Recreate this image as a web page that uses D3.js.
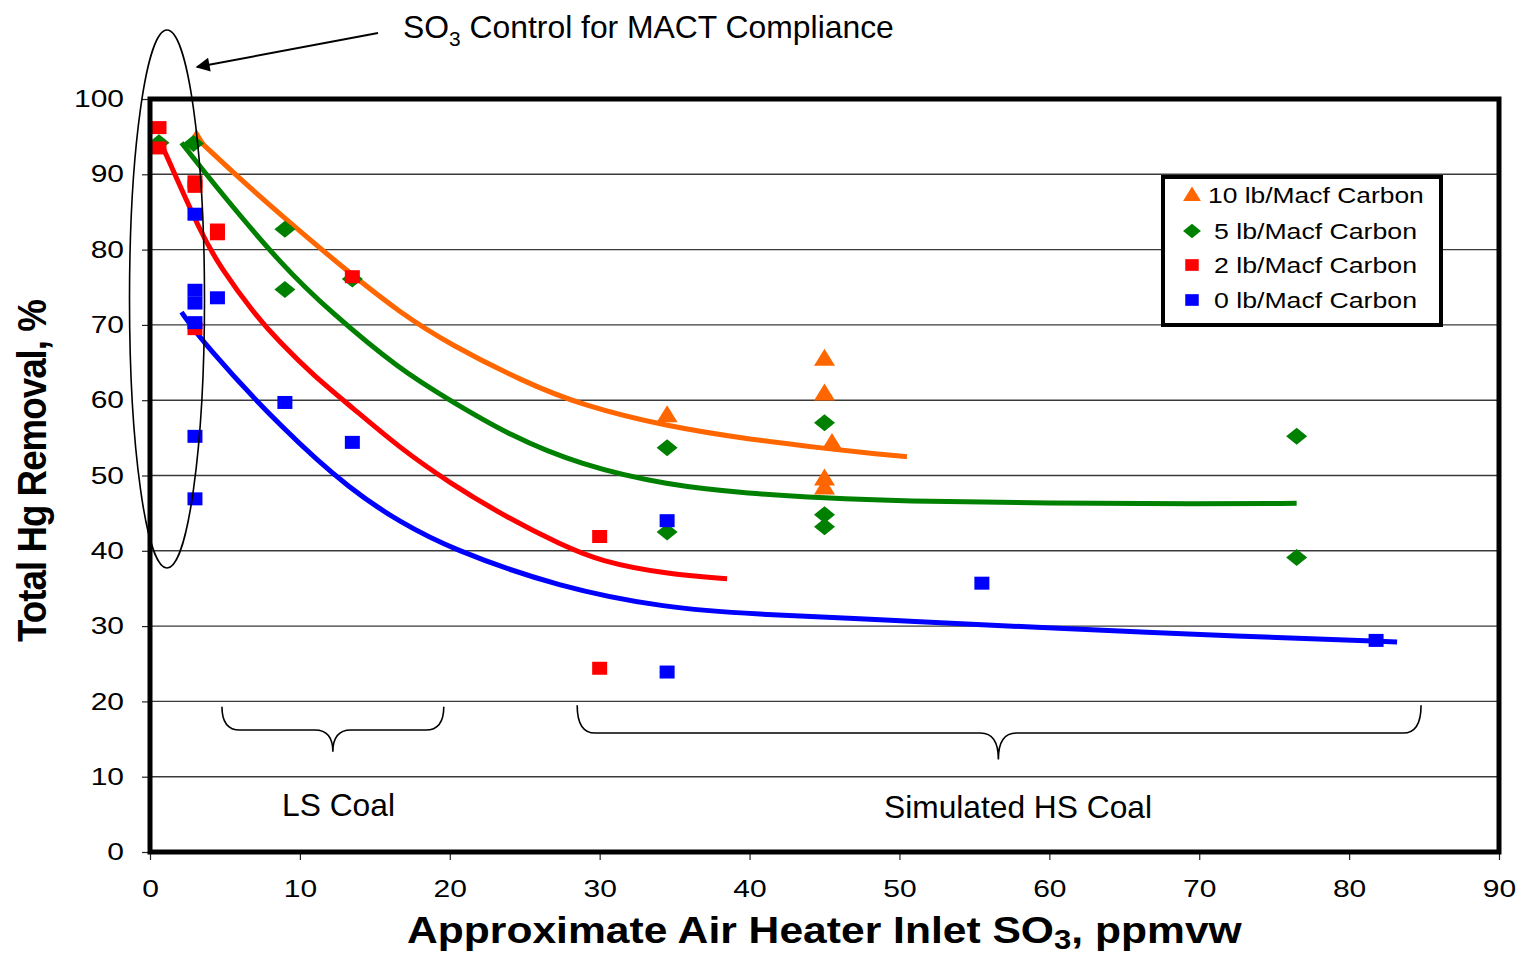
<!DOCTYPE html>
<html>
<head>
<meta charset="utf-8">
<script src="https://cdn.jsdelivr.net/npm/d3@7"></script>
<style>
  html, body { margin: 0; padding: 0; background: #fff; }
  svg { display: block; font-family: "Liberation Sans", Arial, sans-serif; }
</style>
</head>
<body>
<svg id="chart" width="1519" height="954"></svg>
<script>
// ---------- data ----------
const xTicks = [0, 10, 20, 30, 40, 50, 60, 70, 80, 90];
const yTicks = [0, 10, 20, 30, 40, 50, 60, 70, 80, 90, 100];

const seriesNames = ["10 lb/Macf Carbon", "5 lb/Macf Carbon", "2 lb/Macf Carbon", "0 lb/Macf Carbon"];
const seriesColors = ["#FF6600", "#008000", "#FF0000", "#0000FF"];
const seriesShapes = ["triangle", "diamond", "square", "square"];

// 10 lb/Macf
const tenX = [3.1, 34.5, 45, 45, 45.5, 45, 45];
const tenY = [94.7, 58.0, 65.5, 60.9, 54.3, 49.6, 48.4];
// 5 lb/Macf
const fiveX = [0.6, 2.9, 9, 9, 13.5, 34.5, 34.5, 45, 45, 45, 76.5, 76.5];
const fiveY = [94.2, 94.1, 82.7, 74.7, 76.1, 53.7, 42.5, 57.0, 44.8, 43.2, 55.2, 39.1];
// 2 lb/Macf
const twoX = [0.6, 0.6, 3, 3, 4.5, 4.5, 3, 13.5, 30, 30];
const twoY = [96.2, 93.5, 89.0, 88.4, 82.6, 82.1, 69.5, 76.4, 41.9, 24.4];
// 0 lb/Macf
const zeroX = [3, 3, 3, 3, 4.5, 9, 3, 13.5, 3, 34.5, 34.5, 55.5, 81.8];
const zeroY = [84.7, 74.6, 72.9, 70.3, 73.6, 59.7, 55.2, 54.4, 46.9, 44.0, 23.9, 35.7, 28.1];

// trend lines
const tenFitX = [3.2, 6, 8.9, 13.3, 16.7, 20, 25, 28.7, 34.5, 40, 45, 48.7, 50.5];
const tenFitY = [94.6, 89.4, 84.3, 76.9, 71.6, 67.4, 62.4, 59.4, 56.5, 54.8, 53.6, 52.8, 52.5];
const fiveFitX = [2.1, 4.7, 8.9, 12, 16.7, 20, 24, 28.7, 34.5, 40, 45, 50, 60, 70, 76.5];
const fiveFitY = [94.2, 87.6, 77.7, 71.8, 64.0, 60.0, 55.3, 51.4, 48.7, 47.6, 47.0, 46.6, 46.3, 46.2, 46.3];
const twoFitX = [0.7, 3.5, 4.7, 6.9, 8.7, 10.9, 13.5, 16.7, 20, 24, 27.35, 30, 34.5, 38.5];
const twoFitY = [94.3, 81.7, 77.7, 71.6, 67.6, 63.3, 59.0, 53.6, 49.0, 44.2, 40.9, 38.6, 36.9, 36.3];
const zeroFitX = [2.1, 3.5, 8.9, 13.5, 16.7, 20, 27.35, 34.5, 40, 49.6, 58, 73.4, 83.2];
const zeroFitY = [71.7, 67.7, 56.0, 47.9, 43.8, 40.3, 35.1, 32.4, 31.6, 30.8, 29.9, 28.6, 27.9];

// annotation positions (data units)
const lsBrace = [4.8, 19.6, 12.2, 19.3, 16.2, 13.3];   // x1, x2, xTip, yTop, yMid, yTip
const hsBrace = [28.5, 84.8, 56.6, 19.5, 15.8, 12.3];

// ---------- setup ----------
const svg = d3.select("#chart");
const x = d3.scaleLinear().domain([0, 90]).range([150, 1499]);
const y = d3.scaleLinear().domain([0, 100]).range([852, 99]);

function fit(sel, target) {
  const w = sel.node().getComputedTextLength();
  return target / w;
}

// gridlines
svg.append("g").selectAll("line").data(yTicks.filter(d => d > 0 && d < 100)).join("line")
  .attr("x1", x(0)).attr("x2", x(90))
  .attr("y1", d => y(d)).attr("y2", d => y(d))
  .attr("stroke", "#3a3a3a").attr("stroke-width", 1.4);

// axes
const xAxis = svg.append("g").attr("transform", `translate(0,${y(0)})`)
  .call(d3.axisBottom(x).tickValues(xTicks).tickSize(8).tickFormat(d3.format("d")));
xAxis.select(".domain").remove();
xAxis.selectAll(".tick line").attr("stroke", "#222").attr("stroke-width", 1.2);
xAxis.selectAll(".tick text")
  .attr("font-size", 24).attr("font-family", "Liberation Sans, Arial, sans-serif")
  .attr("fill", "#000").attr("y", 28).attr("transform", "scale(1.25,1)");

const yAxis = svg.append("g").attr("transform", `translate(${x(0)},0)`)
  .call(d3.axisLeft(y).tickValues(yTicks).tickSize(8).tickFormat(d3.format("d")));
yAxis.select(".domain").remove();
yAxis.selectAll(".tick line").attr("stroke", "#222").attr("stroke-width", 1.2);
yAxis.selectAll(".tick text")
  .attr("font-size", 24).attr("font-family", "Liberation Sans, Arial, sans-serif")
  .attr("fill", "#000").attr("x", -26 / 1.25).attr("transform", "scale(1.25,1)");

// trend lines
const line = d3.line().x(d => x(d[0])).y(d => y(d[1])).curve(d3.curveBasis);
const fits = [
  [tenFitX, tenFitY], [fiveFitX, fiveFitY], [twoFitX, twoFitY], [zeroFitX, zeroFitY]
];
fits.forEach((f, i) => {
  svg.append("path").datum(d3.zip(f[0], f[1]))
    .attr("d", line).attr("fill", "none")
    .attr("stroke", seriesColors[i]).attr("stroke-width", 5);
});

// markers
function shapePath(shape) {
  if (shape === "triangle") return "M0,-10 L10.5,7 L-10.5,7 Z";
  if (shape === "diamond") return "M0,-8.5 L10.5,0 L0,8.5 L-10.5,0 Z";
  return "M-7.5,-6.5 L7.5,-6.5 L7.5,6.5 L-7.5,6.5 Z";
}
const pts = [
  [tenX, tenY], [fiveX, fiveY], [twoX, twoY], [zeroX, zeroY]
];
pts.forEach((p, i) => {
  svg.append("g").selectAll("path").data(d3.zip(p[0], p[1])).join("path")
    .attr("d", shapePath(seriesShapes[i]))
    .attr("transform", d => `translate(${x(d[0])},${y(d[1])})`)
    .attr("fill", seriesColors[i]);
});

// frame
svg.append("rect").attr("x", x(0)).attr("y", y(100))
  .attr("width", x(90) - x(0)).attr("height", y(0) - y(100))
  .attr("fill", "none").attr("stroke", "#000").attr("stroke-width", 5);

// ellipse annotation
svg.append("ellipse").attr("cx", 167).attr("cy", 299).attr("rx", 37.5).attr("ry", 269)
  .attr("fill", "none").attr("stroke", "#000").attr("stroke-width", 1.6);

// arrow
svg.append("defs").append("marker").attr("id", "arrow")
  .attr("viewBox", "0 0 10 10").attr("refX", 9).attr("refY", 5)
  .attr("markerWidth", 22).attr("markerHeight", 14).attr("orient", "auto")
  .attr("markerUnits", "userSpaceOnUse")
  .append("path").attr("d", "M0,0 L10,5 L0,10 Z").attr("fill", "#000");
svg.append("line").attr("x1", 378).attr("y1", 33).attr("x2", 197).attr("y2", 67)
  .attr("stroke", "#000").attr("stroke-width", 2).attr("marker-end", "url(#arrow)");

// annotation title
const ann = svg.append("text").attr("font-size", 32).attr("fill", "#000");
ann.append("tspan").text("SO");
ann.append("tspan").attr("font-size", 21).attr("dy", 8).text("3");
ann.append("tspan").attr("dy", -8).text(" Control for MACT Compliance");
{
  const s = fit(ann, 491);
  ann.attr("transform", `translate(403,38) scale(${s},1)`);
}

// braces
function bracePath(b) {
  const [x1, x2, xm, y0, ym, yt] = b;
  const X1 = x(x1), X2 = x(x2), XM = x(xm), Y0 = y(y0), YM = y(ym), YT = y(yt);
  const r = 18;
  return `M${X1},${Y0} Q${X1},${YM} ${X1 + r},${YM} L${XM - r},${YM} Q${XM},${YM} ${XM},${YT}` +
         ` Q${XM},${YM} ${XM + r},${YM} L${X2 - r},${YM} Q${X2},${YM} ${X2},${Y0}`;
}
[lsBrace, hsBrace].forEach(b => {
  svg.append("path").attr("d", bracePath(b)).attr("fill", "none")
    .attr("stroke", "#000").attr("stroke-width", 1.6);
});

// region labels
function label(txt, xs, ys, w, size, weight) {
  const t = svg.append("text").attr("font-size", size).attr("font-weight", weight || "normal")
    .attr("fill", "#000").text(txt);
  const s = fit(t, w);
  t.attr("transform", `translate(${xs},${ys}) scale(${s},1)`);
  return t;
}
label("LS Coal", 282, 816, 113, 32);
label("Simulated HS Coal", 884, 818, 268, 32);

// x axis title
const xt = svg.append("text").attr("font-size", 37).attr("font-weight", "bold").attr("fill", "#000");
xt.append("tspan").text("Approximate Air Heater Inlet SO");
xt.append("tspan").attr("font-size", 27).attr("dy", 6).text("3");
xt.append("tspan").attr("dy", -6).text(", ppmvw");
{
  const s = fit(xt, 835);
  xt.attr("transform", `translate(407,943) scale(${s},1)`);
}

// y axis title
const yt = svg.append("text").attr("font-size", 38).attr("font-weight", "bold").attr("fill", "#000")
  .attr("text-anchor", "middle").attr("letter-spacing", -1).text("Total Hg Removal, %");
{
  const s = fit(yt, 342);
  yt.attr("transform", `translate(46,471) rotate(-90) scale(${s},1.05)`);
}

// legend
const lg = svg.append("g");
lg.append("rect").attr("x", 1163).attr("y", 177).attr("width", 278).attr("height", 148)
  .attr("fill", "#fff").attr("stroke", "#000").attr("stroke-width", 4);
const legY = [195, 231, 265, 300];
const legTextX = [1208, 1214, 1214, 1214];
const legW = [216, 203, 203, 203];
seriesNames.forEach((name, i) => {
  const shp = seriesShapes[i];
  const sc = shp === "square" ? 0.9 : 0.85;
  lg.append("path").attr("d", shapePath(shp))
    .attr("transform", `translate(1192,${legY[i]}) scale(${sc})`)
    .attr("fill", seriesColors[i]);
  const t = lg.append("text").attr("font-size", 22).attr("fill", "#000").text(name);
  const s = fit(t, legW[i]);
  t.attr("transform", `translate(${legTextX[i]},${legY[i] + 8}) scale(${s},1)`);
});
</script>
</body>
</html>
